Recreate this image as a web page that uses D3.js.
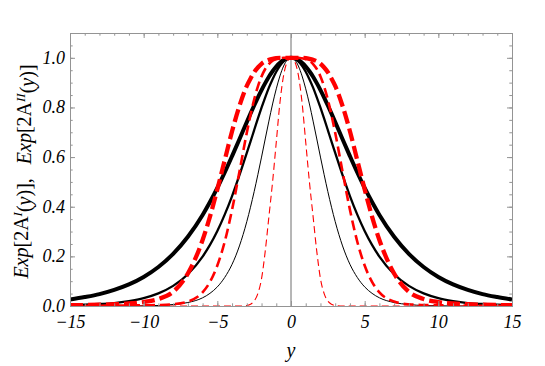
<!DOCTYPE html>
<html lang="en">
<head>
<meta charset="utf-8">
<title>Exp[2A(y)] profiles</title>
<script src="https://d3js.org/d3.v7.min.js"></script>
<style>
  body { margin: 0; background: #fff; }
  text { font-family: "Liberation Serif", "DejaVu Serif", serif; }
</style>
</head>
<body>
<script>
// sample positions along y
var ys = [-15, -14, -13, -12, -11, -10, -9, -8, -7, -6, -5.5, -5, -4.5, -4, -3.5,
  -3, -2.75, -2.5, -2.25, -2, -1.75, -1.5, -1.25, -1, -0.75, -0.5, -0.25, 0,
  0.25, 0.5, 0.75, 1, 1.25, 1.5, 1.75, 2, 2.25, 2.5, 2.75, 3,
  3.5, 4, 4.5, 5, 5.5, 6, 7, 8, 9, 10, 11, 12, 13, 14, 15];

// black solid curves, Exp[2A^I(y)]
var blackThick = [0.026, 0.036, 0.048, 0.065, 0.087, 0.117, 0.157, 0.210, 0.279, 0.367, 0.419, 0.476, 0.538, 0.604, 0.672,
  0.741, 0.775, 0.808, 0.840, 0.870, 0.898, 0.924, 0.946, 0.965, 0.980, 0.991, 0.998, 1,
  0.998, 0.991, 0.980, 0.965, 0.946, 0.924, 0.898, 0.870, 0.840, 0.808, 0.775, 0.741,
  0.672, 0.604, 0.538, 0.476, 0.419, 0.367, 0.279, 0.210, 0.157, 0.117, 0.087, 0.065, 0.048, 0.036, 0.026];
var blackMedium = [0.003, 0.005, 0.008, 0.012, 0.020, 0.032, 0.051, 0.081, 0.128, 0.199, 0.246, 0.302, 0.368, 0.443, 0.527,
  0.617, 0.662, 0.709, 0.755, 0.799, 0.841, 0.880, 0.914, 0.944, 0.968, 0.986, 0.996, 1,
  0.996, 0.986, 0.968, 0.944, 0.914, 0.880, 0.841, 0.799, 0.755, 0.709, 0.662, 0.617,
  0.527, 0.443, 0.368, 0.302, 0.246, 0.199, 0.128, 0.081, 0.051, 0.032, 0.020, 0.012, 0.008, 0.005, 0.003];
var blackThin = [0, 0, 0, 0, 0, 0.001, 0.002, 0.006, 0.014, 0.033, 0.051, 0.077, 0.115, 0.168, 0.242,
  0.340, 0.398, 0.461, 0.529, 0.600, 0.673, 0.745, 0.814, 0.875, 0.927, 0.967, 0.992, 1,
  0.992, 0.967, 0.927, 0.875, 0.814, 0.745, 0.673, 0.600, 0.529, 0.461, 0.398, 0.340,
  0.242, 0.168, 0.115, 0.077, 0.051, 0.033, 0.014, 0.006, 0.002, 0.001, 0, 0, 0, 0, 0];

// red dashed curves, Exp[2A^II(y)]
var redThick = [0.003, 0.004, 0.005, 0.007, 0.010, 0.016, 0.028, 0.057, 0.131, 0.266, 0.360, 0.470, 0.587, 0.704, 0.806,
  0.887, 0.916, 0.942, 0.961, 0.976, 0.986, 0.992, 0.996, 0.999, 1, 1, 1, 1,
  1, 1, 1, 0.999, 0.996, 0.992, 0.986, 0.976, 0.961, 0.942, 0.916, 0.887,
  0.806, 0.704, 0.587, 0.470, 0.360, 0.266, 0.131, 0.057, 0.028, 0.016, 0.010, 0.007, 0.005, 0.004, 0.003];
var redMedium = [0.001, 0.001, 0.001, 0.002, 0.002, 0.003, 0.004, 0.007, 0.018, 0.055, 0.097, 0.163, 0.259, 0.388, 0.541,
  0.698, 0.769, 0.832, 0.884, 0.925, 0.955, 0.975, 0.988, 0.995, 0.998, 1, 1, 1,
  1, 1, 0.998, 0.995, 0.988, 0.975, 0.955, 0.925, 0.884, 0.832, 0.769, 0.698,
  0.541, 0.388, 0.259, 0.163, 0.097, 0.055, 0.018, 0.007, 0.004, 0.003, 0.002, 0.002, 0.001, 0.001, 0.001];
var redThin = [0, 0, 0, 0, 0, 0, 0, 0, 0, 0, 0, 0, 0, 0, 0,
  0.002, 0.007, 0.02, 0.05, 0.11, 0.22, 0.36, 0.5, 0.66, 0.82, 0.93, 0.985, 1,
  0.985, 0.93, 0.82, 0.66, 0.5, 0.36, 0.22, 0.11, 0.05, 0.02, 0.007, 0.002,
  0, 0, 0, 0, 0, 0, 0, 0, 0, 0, 0, 0, 0, 0, 0];

var xTicks = [-15, -10, -5, 0, 5, 10, 15];
var yTicks = [0.0, 0.2, 0.4, 0.6, 0.8, 1.0];

var width = 545, height = 366;
var margin = { top: 33, right: 33, bottom: 60, left: 70 };
var w = width - margin.left - margin.right;
var h = height - margin.top - margin.bottom;

var x = d3.scaleLinear().domain([-15, 15]).range([0, w]);
var y = d3.scaleLinear().domain([0, 1.1]).range([h, 0]);

var svg = d3.select("body").append("svg")
  .attr("width", width)
  .attr("height", height);

var g = svg.append("g")
  .attr("transform", "translate(" + margin.left + "," + margin.top + ")");

g.append("clipPath").attr("id", "clip")
  .append("rect").attr("width", w).attr("height", h);

var frameColor = "#949494";

// vertical axis at y = 0
g.append("line")
  .attr("x1", x(0)).attr("x2", x(0))
  .attr("y1", 0).attr("y2", h)
  .attr("stroke", "#6e6e6e").attr("stroke-width", 1);

// curves
var line = d3.line()
  .x(function(d) { return x(d[0]); })
  .y(function(d) { return y(d[1]); })
  .curve(d3.curveMonotoneX);

var series = [
  { v: blackThick, color: "#000", width: 4, dash: null },
  { v: blackMedium, color: "#000", width: 2.3, dash: null },
  { v: blackThin, color: "#000", width: 1, dash: null },
  { v: redThick, color: "#ff0000", width: 4.3, dash: "13,5" },
  { v: redMedium, color: "#ff0000", width: 2.6, dash: "10,5" },
  { v: redThin, color: "#ff0000", width: 1.1, dash: "7,4" }
];

g.append("g").attr("clip-path", "url(#clip)")
  .selectAll("path")
  .data(series)
  .enter()
  .append("path")
  .attr("d", function(s) { return line(ys.map(function(t, i) { return [t, s.v[i]]; })); })
  .attr("fill", "none")
  .attr("stroke", function(s) { return s.color; })
  .attr("stroke-width", function(s) { return s.width; })
  .attr("stroke-dasharray", function(s) { return s.dash; });

// frame with inward ticks (Mathematica style)
function tickFmt(d) { return d < 0 ? "\u2212" + Math.abs(d) : String(d); }

var axBottom = d3.axisBottom(x).tickValues(xTicks).tickSize(-5).tickFormat(tickFmt);
var axBottomMinor = d3.axisBottom(x).ticks(30).tickSize(-2.7).tickFormat("");
var axTop = d3.axisTop(x).tickValues(xTicks).tickSize(-5).tickFormat("");
var axTopMinor = d3.axisTop(x).ticks(30).tickSize(-2.7).tickFormat("");
var axLeft = d3.axisLeft(y).tickValues(yTicks).tickSize(-5).tickFormat(d3.format(".1f"));
var axLeftMinor = d3.axisLeft(y).ticks(22).tickSize(-2.7).tickFormat("");
var axRight = d3.axisRight(y).tickValues(yTicks).tickSize(-5).tickFormat("");
var axRightMinor = d3.axisRight(y).ticks(22).tickSize(-2.7).tickFormat("");

function styleAxis(sel) {
  sel.select(".domain").attr("stroke", frameColor);
  sel.selectAll(".tick line").attr("stroke", frameColor);
  sel.selectAll("text")
    .attr("fill", "#000")
    .attr("font-size", "18px")
    .attr("font-style", "italic")
    .attr("font-family", "'Liberation Serif', serif");
}

g.append("g").attr("transform", "translate(0," + h + ")").call(axBottomMinor).call(styleAxis);
g.append("g").attr("transform", "translate(0," + h + ")").call(axBottom).call(styleAxis)
  .selectAll("text").attr("dy", null).attr("y", 22);
g.append("g").call(axTopMinor).call(styleAxis);
g.append("g").call(axTop).call(styleAxis);
g.append("g").call(axLeftMinor).call(styleAxis);
g.append("g").call(axLeft).call(styleAxis)
  .selectAll("text").attr("x", -5).attr("dy", "0.3em");
g.append("g").attr("transform", "translate(" + w + ",0)").call(axRightMinor).call(styleAxis);
g.append("g").attr("transform", "translate(" + w + ",0)").call(axRight).call(styleAxis);

// axis labels
svg.append("text")
  .attr("x", margin.left + x(0))
  .attr("y", 357)
  .attr("text-anchor", "middle")
  .attr("font-size", "20px")
  .attr("font-style", "italic")
  .text("y");

var yl = svg.append("text")
  .attr("transform", "translate(28," + (margin.top + h / 2 + 2) + ") rotate(-90)")
  .attr("text-anchor", "middle")
  .attr("font-size", "20px");

function part(txt, it, sup) {
  var t = yl.append("tspan").text(txt);
  if (it) t.attr("font-style", "italic");
  if (sup === "up") t.attr("dy", "-0.45em").attr("font-size", "13px");
  if (sup === "down") t.attr("dy", "0.45em");
  return t;
}
part("Exp", true); part("[2A"); part("I", true, "up"); part("(", false, "down");
part("y", true); part(")],\u2002\u2009");
part("Exp", true); part("[2A"); part("II", true, "up"); part("(", false, "down");
part("y", true); part(")]");
</script>
</body>
</html>
